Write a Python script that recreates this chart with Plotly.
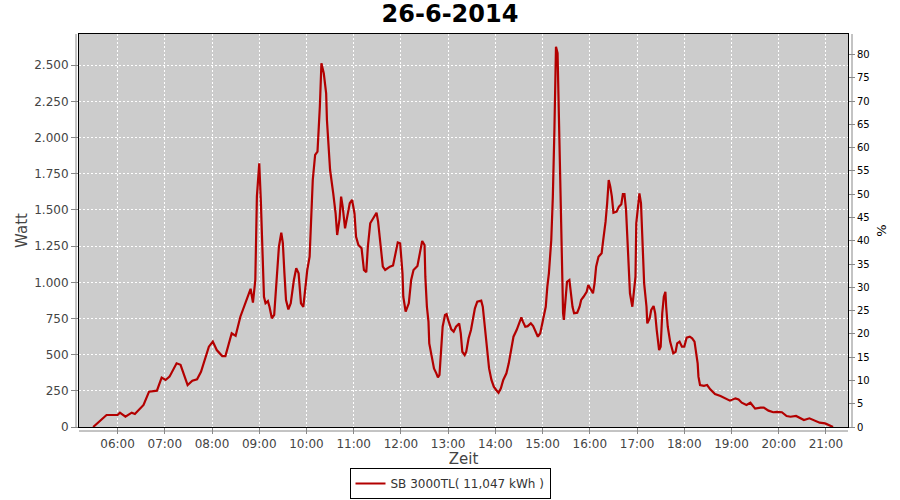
import plotly.graph_objects as go

DAY = "2014-06-26"
times = ["05:29","05:36","05:46","06:00","06:03","06:10","06:18","06:22","06:33","06:40","06:50","06:56",
"07:01","07:06","07:15","07:20","07:24","07:29","07:35","07:41","07:46","07:56",
"08:01","08:06","08:13","08:17","08:25","08:30","08:36","08:40","08:44","08:49","08:52","08:55","08:57",
"09:00","09:02","09:04","09:06","09:08","09:11","09:13","09:16","09:19","09:21","09:25","09:28","09:30",
"09:32","09:34","09:37","09:40","09:44","09:47","09:50","09:53","09:56","09:59",
"10:01","10:04","10:06","10:08","10:11","10:14","10:17","10:19","10:22","10:25","10:26","10:28","10:30",
"10:34","10:37","10:39","10:42","10:44","10:46","10:49","10:52","10:55","10:58",
"11:01","11:03","11:06","11:10","11:12","11:13","11:16","11:18","11:21","11:25","11:29","11:31","11:34",
"11:37","11:40","11:46","11:50","11:53","11:56","11:59",
"12:00","12:02","12:03","12:06","12:10","12:13","12:16","12:21","12:24","12:27","12:30","12:31","12:33",
"12:35","12:36","12:40","12:42","12:45","12:47","12:49","12:51","12:53","12:56","12:58",
"13:00","13:04","13:07","13:10","13:14","13:16","13:18","13:21","13:23","13:26","13:29","13:32","13:34",
"13:37","13:42","13:44","13:46","13:48","13:50","13:52","13:55","13:58",
"14:01","14:04","14:07","14:10","14:14","14:17","14:20","14:23","14:27","14:30","14:33","14:35","14:38",
"14:41","14:45","14:48","14:51","14:54","14:57",
"15:01","15:04","15:06","15:08","15:11","15:13","15:15","15:16","15:17","15:19","15:20","15:22","15:23",
"15:25","15:26","15:27","15:29","15:31","15:34","15:36","15:38","15:40","15:44","15:47","15:49","15:52",
"15:56","15:58",
"16:01","16:04","16:06","16:08","16:11","16:15","16:17","16:20","16:22","16:24","16:26","16:28","16:30",
"16:34","16:37","16:40","16:42","16:44","16:46","16:48","16:50","16:51","16:54","16:56","16:58","16:59",
"17:01","17:03","17:05","17:07","17:09","17:12","17:13","17:16","17:18","17:21","17:23","17:25","17:28",
"17:30","17:32","17:34","17:36","17:37","17:39","17:42","17:46","17:49","17:51","17:54","17:57",
"18:00","18:03","18:07","18:10","18:13","18:15","18:17","18:18","18:20","18:25","18:29","18:33","18:39",
"18:46","18:52","18:58",
"19:05","19:09","19:13","19:19","19:24","19:30","19:37","19:41","19:47","19:53","19:58",
"20:04","20:10","20:15","20:22","20:27","20:32","20:39","20:46","20:52","20:59",
"21:05","21:09"]
watt = [0,32,83,83,99,71,99,90,152,244,251,341,
325,348,440,430,371,290,320,330,382,555,
590,532,490,490,648,630,762,820,878,955,860,1016,1592,
1822,1569,1177,900,855,870,831,751,775,947,1246,1343,1270,
1062,878,813,855,1016,1097,1062,855,831,970,
1085,1177,1500,1707,1880,1903,2214,2513,2444,2306,2122,1961,1776,
1615,1477,1327,1436,1592,1523,1373,1465,1546,1569,
1477,1315,1258,1235,1154,1085,1070,1246,1408,1442,1481,1420,1270,
1108,1085,1108,1116,1200,1276,1270,
1200,1062,900,797,855,1016,1085,1113,1200,1285,1258,1039,831,
728,578,463,405,371,343,360,509,693,774,780,
740,675,659,693,716,648,520,497,520,613,670,762,820,
866,873,831,728,624,509,405,325,279,
256,237,267,325,371,440,532,624,670,716,758,728,693,
697,716,697,659,624,648,
740,831,970,1062,1292,1592,2053,2329,2628,2583,2306,1937,1546,
1177,786,740,878,1004,1016,924,831,786,790,831,878,900,
935,981,
947,924,993,1108,1177,1200,1292,1419,1546,1707,1661,1592,1481,
1488,1523,1540,1610,1610,1500,1292,1085,924,831,924,1039,1408,
1523,1615,1546,1292,993,831,716,751,809,836,786,670,532,
555,786,900,935,831,693,590,509,520,578,590,555,
555,617,624,613,590,509,440,348,290,285,290,260,228,
214,198,182,
198,190,168,152,168,127,134,134,113,102,104,
102,76,71,76,64,48,60,41,30,25,
12,0]

series_name = "SB 3000TL( 11,047 kWh )"
x_range = ["05:11", "21:28"]
y_range = [0, 2716]
pct_range = [0, 84.4]

xs = [f"{DAY} {t}" for t in times]

fig = go.Figure()
fig.add_trace(go.Scatter(x=xs, y=watt, mode="lines", name=series_name,
                         line=dict(color="#B30000", width=2.2)))
fig.add_trace(go.Scatter(x=[xs[0]], y=[0], yaxis="y2", mode="lines", showlegend=False,
                         line=dict(color="rgba(0,0,0,0)"), hoverinfo="skip"))

tickfont = dict(family="DejaVu Sans", size=12, color="#444444")
GRID = "2px,2px"
fig.update_layout(
    width=900, height=500,
    margin=dict(l=79, r=52, t=34, b=73),
    paper_bgcolor="white", plot_bgcolor="#CCCCCC",
    separators=",.",
    font=dict(family="DejaVu Sans", color="#444444"),
    title=dict(text="<b>26-6-2014</b>", x=0.5, xanchor="center", y=0.973, yanchor="middle",
               yref="container", font=dict(family="DejaVu Sans", size=24, color="#000000"),
               automargin=False),
    xaxis=dict(type="date", range=[f"{DAY} {x_range[0]}", f"{DAY} {x_range[1]}"],
               tickformat="%H:%M", dtick=3600000, tick0=f"{DAY} 06:00", automargin=False,
               showgrid=True, gridcolor="white", griddash=GRID, gridwidth=1,
               ticks="outside", ticklen=6, tickcolor="#888888", tickfont=tickfont,
               showline=True, linecolor="black", linewidth=1, mirror=True, zeroline=False,
               title=dict(text="Zeit", font=dict(family="DejaVu Sans", size=15, color="#444444"), standoff=10)),
    yaxis=dict(range=y_range, dtick=250, tickformat=",d", automargin=False,
               showgrid=True, gridcolor="white", griddash=GRID, gridwidth=1,
               ticks="outside", ticklen=7, tickcolor="#888888", tickfont=tickfont,
               showline=True, linecolor="black", linewidth=1, mirror=True, zeroline=False,
               title=dict(text="Watt", font=dict(family="DejaVu Sans", size=15, color="#444444"), standoff=2)),
    yaxis2=dict(overlaying="y", side="right", range=pct_range, dtick=5, showgrid=False, zeroline=False,
                automargin=False,
                ticks="outside", ticklen=6, tickcolor="#888888",
                tickfont=dict(family="DejaVu Sans", size=10, color="#000000"),
                title=dict(text="%", font=dict(family="DejaVu Sans", size=13, color="#000000"), standoff=8)),
    legend=dict(x=450 / 900, xref="container", xanchor="center", y=1 - 468 / 500, yref="container",
                yanchor="top", orientation="h",
                bordercolor="black", borderwidth=1, bgcolor="white",
                font=dict(family="DejaVu Sans", size=12, color="#333333"),
                itemwidth=30),
    showlegend=True,
)
# offset axis lines (JFreeChart style)
fig.add_shape(type="line", xref="paper", yref="paper", x0=-3/769, x1=-3/769, y0=0, y1=1,
              line=dict(color="#888888", width=1))
fig.add_shape(type="line", xref="paper", yref="paper", x0=1+4/769, x1=1+4/769, y0=0, y1=1,
              line=dict(color="#888888", width=1))
fig.add_shape(type="line", xref="paper", yref="paper", x0=0, x1=1, y0=-4/393, y1=-4/393,
              line=dict(color="#888888", width=1))

fig.write_html("out.html", config={"displayModeBar": False},
               post_script="document.body.style.margin='0';")
